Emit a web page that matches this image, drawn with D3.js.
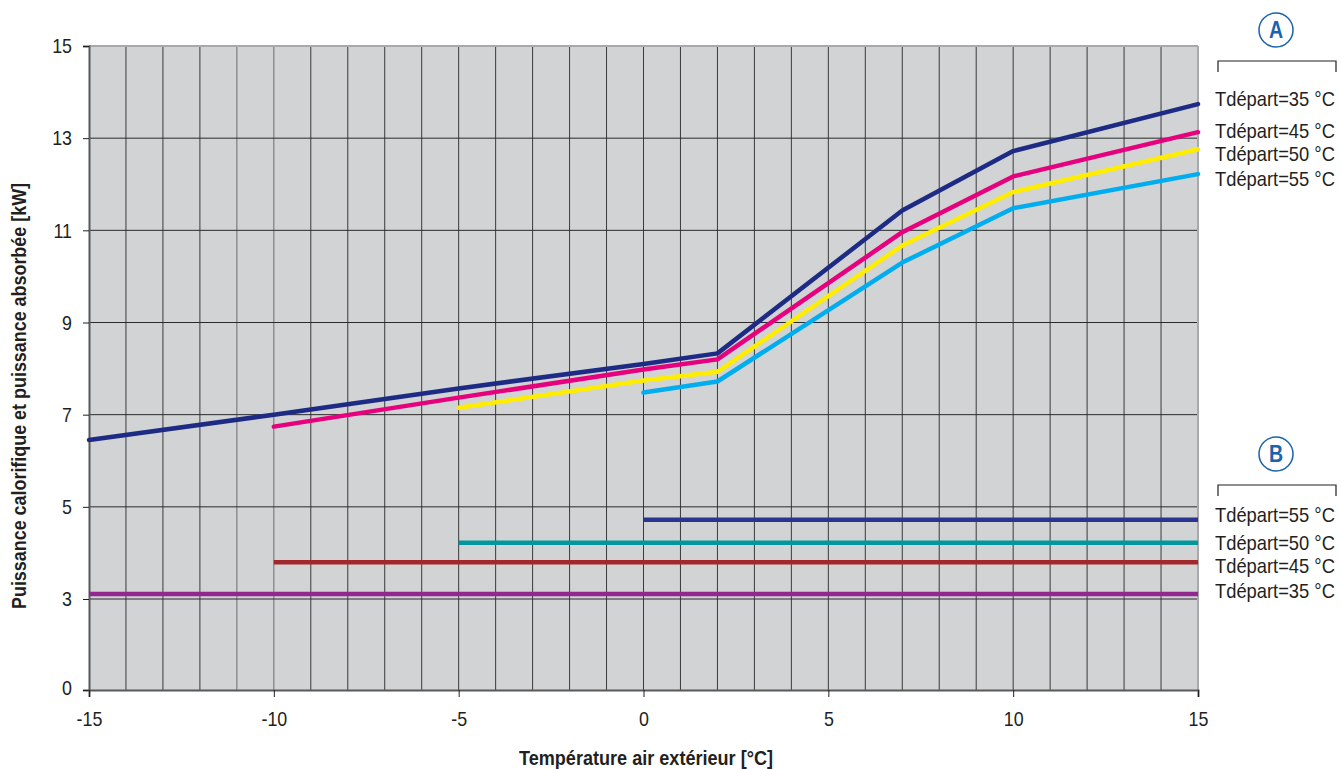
<!DOCTYPE html>
<html>
<head>
<meta charset="utf-8">
<script src="https://cdn.jsdelivr.net/npm/d3@7"></script>
<style>
  body { margin: 0; background: #fff; }
  svg text { font-family: "Liberation Sans Narrow", "Arial Narrow", "Liberation Sans", sans-serif; fill: #231f20; }
</style>
</head>
<body>
<svg id="chart" width="1342" height="769"></svg>
<script>
// temperatures (x) where the curves break
const tempsA = [-15, -10, -5, 0, 2, 7, 10, 15];

// A: puissance calorifique, Tdépart 35/45/50/55 °C (null = not drawn)
const a35 = [6.45, 7.0, 7.57, 8.1, 8.33, 11.43, 12.72, 13.74];
const a45 = [null, 6.74, 7.37, 7.98, 8.2, 10.96, 12.17, 13.13];
const a50 = [null, null, 7.15, 7.74, 7.93, 10.67, 11.83, 12.76];
const a55 = [null, null, null, 7.48, 7.72, 10.3, 11.48, 12.22];

// B: puissance absorbée (flat), start temperature and value
const bStart = [0, -5, -10, -15];
const bValue = [4.72, 4.22, 3.8, 3.11];
const bLabels = ['Tdépart=55 °C', 'Tdépart=50 °C', 'Tdépart=45 °C', 'Tdépart=35 °C'];
const aLabels = ['Tdépart=35 °C', 'Tdépart=45 °C', 'Tdépart=50 °C', 'Tdépart=55 °C'];

const yTicks = [0, 3, 5, 7, 9, 11, 13, 15];
const xTicks = [-15, -10, -5, 0, 5, 10, 15];

const m = { left: 89, right: 1198, top: 46, bottom: 690 };
const svg = d3.select('#chart');

// no narrow font installed: squeeze glyphs horizontally instead
function condense(sel, k) {
  sel.each(function () {
    const w = this.getComputedTextLength();
    d3.select(this).attr('textLength', w * k).attr('lengthAdjust', 'spacingAndGlyphs');
  });
}

const x = d3.scaleLinear().domain([-15, 15]).range([m.left, m.right]);
// the 0..3 band is drawn the same height as one 2-unit band
const y = d3.scaleLinear().domain([0, 3, 15]).range([m.bottom, m.bottom - 91, m.top]);

// plot background
svg.append('rect')
  .attr('x', m.left).attr('y', m.top)
  .attr('width', m.right - m.left).attr('height', m.bottom - m.top)
  .attr('fill', '#d1d3d5');

// vertical grid every degree
svg.append('g').selectAll('line')
  .data(d3.range(-14, 15))
  .enter().append('line')
  .attr('x1', d => x(d)).attr('x2', d => x(d))
  .attr('y1', m.top).attr('y2', m.bottom)
  .attr('stroke', d => (d === -10 || d === -11) ? '#6d6e71' : '#3a3a3a')
  .attr('stroke-width', 1);

// horizontal grid
svg.append('g').selectAll('line')
  .data(yTicks.slice(1, -1))
  .enter().append('line')
  .attr('x1', m.left).attr('x2', m.right)
  .attr('y1', d => y(d)).attr('y2', d => y(d))
  .attr('stroke', '#2a2a2a').attr('stroke-width', 1);

// frame: light top/right, dark left/bottom
svg.append('line').attr('x1', m.left).attr('x2', m.right).attr('y1', m.top).attr('y2', m.top)
  .attr('stroke', '#a7a9ac').attr('stroke-width', 2);
svg.append('line').attr('x1', m.right).attr('x2', m.right).attr('y1', m.top).attr('y2', m.bottom)
  .attr('stroke', '#a7a9ac').attr('stroke-width', 2);

// axes
const yAxis = d3.axisLeft(y).tickValues(yTicks).tickSize(6).tickPadding(11).tickFormat(d => String(d));
const xAxis = d3.axisBottom(x).tickValues(xTicks).tickSize(7).tickPadding(14).tickFormat(d => String(d));

const gy = svg.append('g').attr('transform', `translate(${m.left},0)`).call(yAxis);
const gx = svg.append('g').attr('transform', `translate(0,${m.bottom})`).call(xAxis);
[gy, gx].forEach(g => {
  g.select('.domain').attr('stroke', '#58595b').attr('stroke-width', 2);
  g.selectAll('.tick line').attr('stroke', '#231f20');
  g.selectAll('.tick text').attr('font-size', 21).attr('fill', '#231f20')
    .style('font-family', '"Liberation Sans Narrow", "Arial Narrow", "Liberation Sans", sans-serif');
  condense(g.selectAll('.tick text'), 0.85);
});
gy.select('.tick text').attr('dy', '0.2em');

// curves A
const line = d3.line()
  .defined(d => d[1] !== null)
  .x(d => x(d[0])).y(d => y(d[1]));

const seriesA = [
  { vals: a55, color: '#00aeef' },
  { vals: a50, color: '#ffed00' },
  { vals: a45, color: '#e6007e' },
  { vals: a35, color: '#1d2b84' }
];
svg.append('g').selectAll('path')
  .data(seriesA)
  .enter().append('path')
  .attr('d', s => line(tempsA.map((t, i) => [t, s.vals[i]])))
  .attr('fill', 'none')
  .attr('stroke', s => s.color)
  .attr('stroke-width', 4.5)
  .attr('stroke-linejoin', 'round')
  .attr('stroke-linecap', 'round');

// lines B
const bColors = ['#2b3590', '#00979d', '#a3282b', '#92278f'];
svg.append('g').selectAll('line')
  .data(bValue)
  .enter().append('line')
  .attr('x1', (d, i) => x(bStart[i])).attr('x2', x(15))
  .attr('y1', d => y(d)).attr('y2', d => y(d))
  .attr('stroke', (d, i) => bColors[i])
  .attr('stroke-width', 4.5);

// legend blocks
function legendBlock(letter, cy, labels, ys) {
  const g = svg.append('g');
  g.append('circle').attr('cx', 1276).attr('cy', cy).attr('r', 17)
    .attr('fill', '#fff').attr('stroke', '#1a63ad').attr('stroke-width', 1.5);
  const t = g.append('text').attr('x', 1276).attr('y', cy + 8).attr('text-anchor', 'middle')
    .attr('font-size', 23).attr('font-weight', 'bold').style('fill', '#1a63ad').text(letter);
  condense(t, 0.85);
  g.append('path')
    .attr('d', `M1218,${cy + 42}V${cy + 31}H1336V${cy + 42}`)
    .attr('fill', 'none').attr('stroke', '#231f20').attr('stroke-width', 1.2);
  const labs = g.selectAll('text.lab')
    .data(labels)
    .enter().append('text').attr('class', 'lab')
    .attr('font-size', 20)
    .text(d => d);
  // scale to fit 120px wide starting at x=1215
  labs.attr('transform', function (d, i) {
    const k = 120 / this.getComputedTextLength();
    return `translate(1215,${ys[i]}) scale(${k},1)`;
  });
}
legendBlock('A', 30, aLabels, [106, 138, 161, 186]);
legendBlock('B', 454, bLabels, [522, 550, 573, 598]);

// axis titles
const xt = svg.append('text')
  .attr('x', 646).attr('y', 765)
  .attr('text-anchor', 'middle')
  .attr('font-size', 21).attr('font-weight', 'bold')
  .text('Température air extérieur [°C]');
xt.attr('textLength', 254).attr('lengthAdjust', 'spacingAndGlyphs');
const yt = svg.append('text')
  .attr('transform', 'translate(26,396) rotate(-90)')
  .attr('text-anchor', 'middle')
  .attr('font-size', 21).attr('font-weight', 'bold')
  .text('Puissance calorifique et puissance absorbée [kW]');
yt.attr('textLength', 426).attr('lengthAdjust', 'spacingAndGlyphs');
</script>
</body>
</html>
